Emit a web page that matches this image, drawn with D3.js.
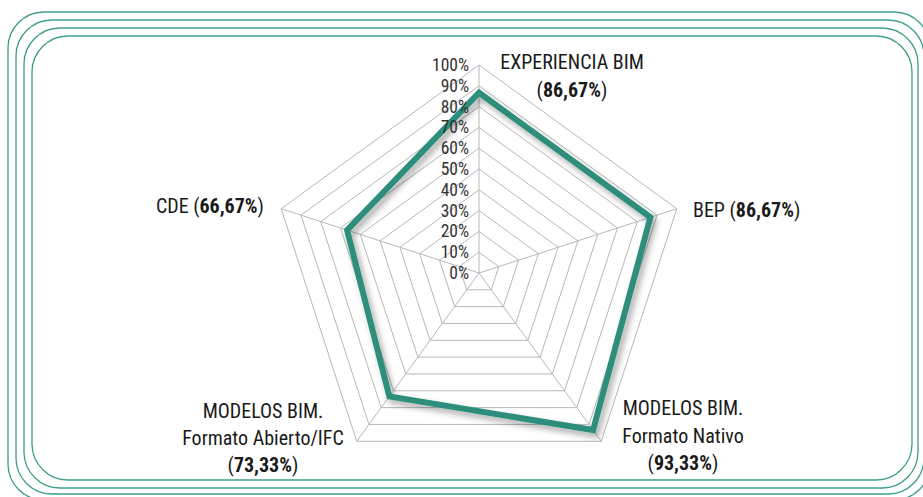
<!DOCTYPE html>
<html><head><meta charset="utf-8">
<script src="https://cdn.jsdelivr.net/npm/d3@7"></script>
<style>
html,body{margin:0;padding:0;background:#fff;}
svg{display:block;}
text{font-family:"Liberation Sans Narrow","Roboto Condensed","DejaVu Sans Condensed",sans-serif;fill:#1a1a1a;}
</style></head>
<body>
<svg id="chart" width="923" height="497"></svg>
<script>
const categories = ["EXPERIENCIA BIM","BEP","MODELOS BIM. Formato Nativo","MODELOS BIM. Formato Abierto/IFC","CDE"];
const values = [86.67, 86.67, 93.33, 73.33, 66.67];
const valueLabels = ["86,67%","86,67%","93,33%","73,33%","66,67%"];
const tickValues = [0,10,20,30,40,50,60,70,80,90,100];
const tickLabels = ["0%","10%","20%","30%","40%","50%","60%","70%","80%","90%","100%"];

const svg = d3.select("#chart");
const cx = 479, cy = 273, R = 208;
const teal = "#2e8e7b";

// decorative frames
const frames = [
  {x:32,y:36,x2:912,y2:480},
  {x:24,y:28,x2:918,y2:488},
  {x:16,y:20,x2:924,y2:494},
  {x:8,y:12,x2:930,y2:500}
];
svg.append("g").selectAll("rect").data(frames).join("rect")
  .attr("x",d=>d.x).attr("y",d=>d.y)
  .attr("width",d=>d.x2-d.x).attr("height",d=>d.y2-d.y)
  .attr("rx",36).attr("ry",36)
  .attr("fill","none").attr("stroke","#3f9d8b").attr("stroke-width",1.3);

const defs = svg.append("defs");
const f = defs.append("filter").attr("id","sh").attr("x","-20%").attr("y","-20%").attr("width","140%").attr("height","140%");
f.append("feDropShadow").attr("dx",3).attr("dy",4).attr("stdDeviation",3).attr("flood-color","#000").attr("flood-opacity",0.35);

const r = d3.scaleLinear().domain([0,100]).range([0,R]);
const n = categories.length;
const ang = i => -Math.PI/2 + i*2*Math.PI/n;
const pt = (i,v) => [cx + r(v)*Math.cos(ang(i)), cy + r(v)*Math.sin(ang(i))];

const g = svg.append("g");
tickValues.filter(t=>t>0).forEach(t=>{
  g.append("polygon")
    .attr("points", d3.range(n).map(i=>pt(i,t).join(",")).join(" "))
    .attr("fill","none").attr("stroke","#b8b8b8").attr("stroke-width",1);
});
d3.range(n).forEach(i=>{
  const p = pt(i,100);
  g.append("line").attr("x1",cx).attr("y1",cy).attr("x2",p[0]).attr("y2",p[1])
    .attr("stroke","#b8b8b8").attr("stroke-width",1);
});

const line = d3.line().curve(d3.curveLinearClosed);
svg.append("path")
  .attr("d", line(values.map((v,i)=>pt(i,v))))
  .attr("fill","none").attr("stroke",teal).attr("stroke-width",6)
  .attr("stroke-linejoin","miter").attr("filter","url(#sh)");

svg.append("g").selectAll("text").data(tickValues).join("text")
  .attr("x",cx-10).attr("y",d=>cy - r(d) + 6)
  .attr("text-anchor","end").attr("font-size",17.5).style("fill","#333")
  .text((d,i)=>tickLabels[i]);

const fs = 20;
function lbl(x,y,anchor,parts){
  const t = svg.append("text").attr("x",x).attr("y",y).attr("text-anchor",anchor).attr("font-size",fs);
  parts.forEach(p=>t.append("tspan").attr("font-weight",p[1]?"bold":"normal").text(p[0]));
  return t;
}
function labelParts(i){ return [["(",false],[valueLabels[i],true],[")",false]]; }
lbl(572,69,"middle",[[categories[0],false]]);
lbl(572,97,"middle",labelParts(0));
lbl(693,217,"start",[[categories[1]+" ",false]].concat(labelParts(1)));
lbl(683,415,"middle",[["MODELOS BIM.",false]]);
lbl(683,443,"middle",[["Formato Nativo",false]]);
lbl(683,470,"middle",labelParts(2));
lbl(263,418,"middle",[["MODELOS BIM.",false]]);
lbl(263,445,"middle",[["Formato Abierto/IFC",false]]);
lbl(263,472,"middle",labelParts(3));
lbl(264,213,"end",[[categories[4]+" ",false]].concat(labelParts(4)));
</script>
</body></html>
